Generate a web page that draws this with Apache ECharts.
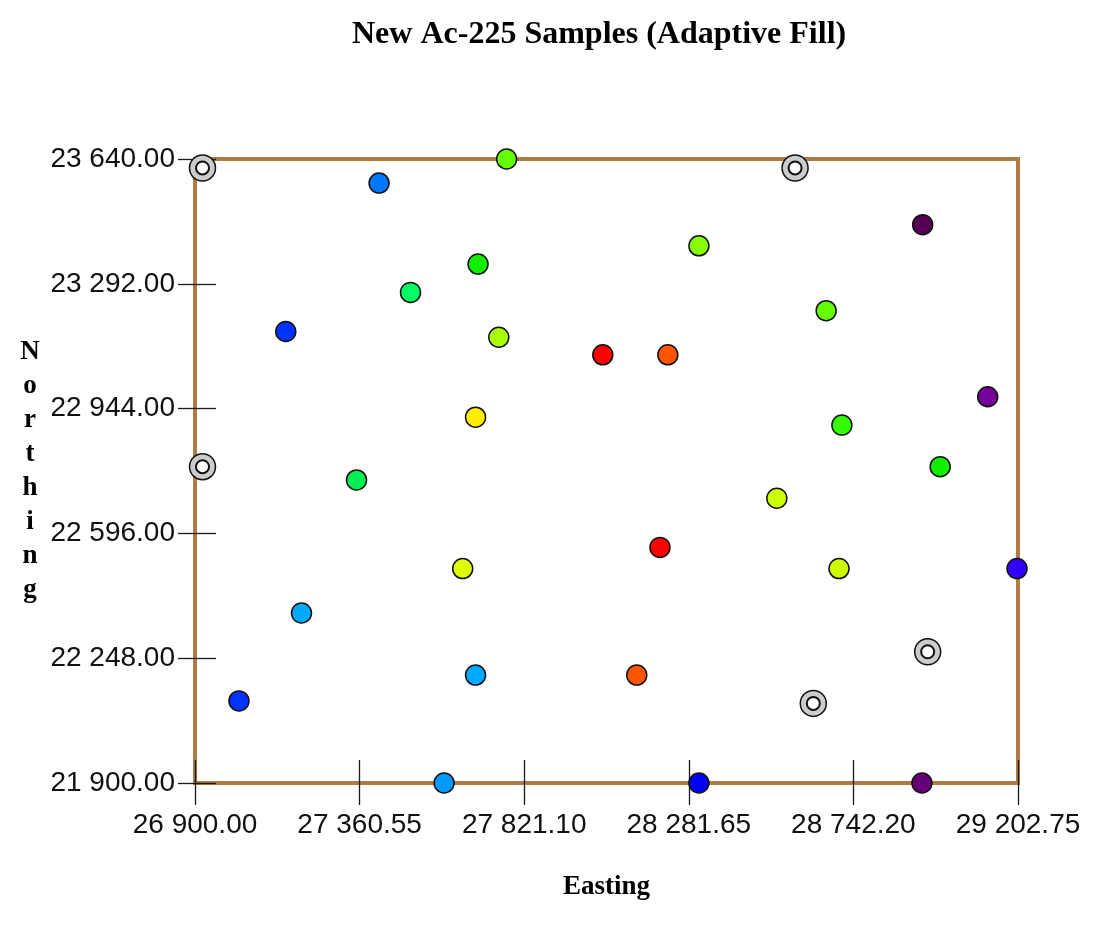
<!DOCTYPE html>
<html>
<head>
<meta charset="utf-8">
<script src="https://cdn.jsdelivr.net/npm/echarts@6/dist/echarts.min.js"></script>
<style>
html,body{margin:0;padding:0;background:#fff;}
#chart{width:1113px;height:937px;}
</style>
</head>
<body>
<div id="chart"></div>
<script>
// ---- data ----
const titleText = 'New Ac-225 Samples (Adaptive Fill)';
const xName = 'Easting';
const yName = 'Northing';

const xTickValues = [26900, 27360.55, 27821.10, 28281.65, 28742.20, 29202.75];
const xTickLabels = ['26 900.00', '27 360.55', '27 821.10', '28 281.65', '28 742.20', '29 202.75'];
const yTickValues = [21900, 22248, 22596, 22944, 23292, 23640];
const yTickLabels = ['21 900.00', '22 248.00', '22 596.00', '22 944.00', '23 292.00', '23 640.00'];

// sample locations (Easting, Northing) and their fill class
const sampleEast  = [27772, 27415, 28936, 28310, 27692, 27503, 28666, 27154, 27750, 28041, 28223, 29118, 27685, 28710, 28985, 27352, 28528, 28201, 27649, 28702, 29200, 27198, 28136, 27685, 27023, 27597, 28310, 28934];
const sampleNorth = [23640, 23573, 23457, 23398, 23347, 23268, 23217, 23159, 23143, 23094, 23094, 22977, 22920, 22898, 22782, 22745, 22694, 22557, 22498, 22498, 22498, 22374, 22201, 22201, 22129, 21900, 21900, 21900];
const sampleClass = [10, 3, 20, 11, 8, 7, 10, 2, 12, 17, 16, 18, 15, 9, 8, 6, 13, 17, 14, 13, 1, 5, 16, 5, 2, 4, 0, 19];

// non-sampled / reference locations (grey target symbols)
const refEast  = [26921, 28579, 26921, 28950, 28630];
const refNorth = [23615, 23615, 22782, 22266, 22122];

// ---- styles ----
const palette = ['#0000ff', '#3300ff', '#0033ff', '#0077ff', '#0099ff', '#00aaff', '#00ee55', '#00ff66',
                 '#11ee00', '#33ff00', '#66ff00', '#88ff00', '#aaff00', '#ccff00', '#ddff00', '#ffee00',
                 '#ff5500', '#ff0000', '#770099', '#660077', '#550055'];
const brown = '#b07a45';
const tickColor = '#1a1a1a';
const labelFont = 'Liberation Sans';
const serif = 'Liberation Serif';

function lookup(values, labels, v) {
  for (let i = 0; i < values.length; i++) {
    if (Math.abs(values[i] - v) < 0.01) return labels[i];
  }
  return '';
}

const samples = sampleEast.map((e, i) => [e, sampleNorth[i]]);
const refs = refEast.map((e, i) => [e, refNorth[i]]);

const xMin = xTickValues[0], xMax = xTickValues[xTickValues.length - 1];
const yMin = yTickValues[0], yMax = yTickValues[yTickValues.length - 1];

const chart = echarts.init(document.getElementById('chart'), null, {renderer: 'canvas'});
chart.setOption({
  animation: false,
  backgroundColor: '#ffffff',
  title: {
    text: titleText,
    left: 352,
    top: 19,
    padding: 0,
    textStyle: {fontFamily: serif, fontWeight: 'bold', fontSize: 32, color: '#000'}
  },
  grid: {
    left: 195, right: 95, top: 159, bottom: 154,
    show: true, borderColor: brown, borderWidth: 4,
    containLabel: false, outerBoundsMode: 'none'
  },
  xAxis: [
    {
      type: 'value', position: 'bottom', min: xMin, max: xMax,
      name: xName, nameLocation: 'middle', nameGap: 104,
      nameTextStyle: {fontFamily: serif, fontWeight: 'bold', fontSize: 27, color: '#000', verticalAlign: 'middle'},
      axisLine: {show: true, lineStyle: {color: brown, width: 4}},
      axisTick: {show: true, inside: false, length: 22, customValues: xTickValues, lineStyle: {color: tickColor, width: 1.3}},
      axisLabel: {show: true, margin: 28, customValues: xTickValues, fontFamily: labelFont, fontSize: 28, color: '#111',
        formatter: v => lookup(xTickValues, xTickLabels, v)},
      splitLine: {show: false}
    },
    {
      type: 'value', position: 'bottom', min: xMin, max: xMax,
      axisLine: {show: false},
      axisTick: {show: true, inside: true, length: 23, customValues: xTickValues, lineStyle: {color: tickColor, width: 1.3}},
      axisLabel: {show: false},
      splitLine: {show: false}
    }
  ],
  yAxis: [
    {
      type: 'value', position: 'left', min: yMin, max: yMax,
      name: yName.split('').join('\n'), nameLocation: 'middle', nameGap: 165, nameRotate: 0,
      nameTextStyle: {fontFamily: serif, fontWeight: 'bold', fontSize: 27, color: '#000',
        align: 'center', verticalAlign: 'middle', lineHeight: 34, padding: [0, 0, 38, 0]},
      axisLine: {show: true, lineStyle: {color: brown, width: 4}},
      axisTick: {show: true, inside: false, length: 17, customValues: yTickValues, lineStyle: {color: tickColor, width: 1.3}},
      axisLabel: {show: true, margin: 20, customValues: yTickValues, fontFamily: labelFont, fontSize: 28, color: '#111',
        formatter: v => lookup(yTickValues, yTickLabels, v)},
      splitLine: {show: false}
    },
    {
      type: 'value', position: 'left', min: yMin, max: yMax,
      axisLine: {show: false},
      axisTick: {show: true, inside: true, length: 21, customValues: yTickValues, lineStyle: {color: tickColor, width: 1.3}},
      axisLabel: {show: false},
      splitLine: {show: false}
    }
  ],
  series: [
    {
      type: 'scatter', xAxisIndex: 0, yAxisIndex: 0, clip: false, z: 5,
      data: refs, symbol: 'circle', symbolSize: 26,
      itemStyle: {color: '#cccccc', borderColor: '#111', borderWidth: 1.5, opacity: 1},
      emphasis: {disabled: true}
    },
    {
      type: 'scatter', xAxisIndex: 0, yAxisIndex: 0, clip: false, z: 6,
      data: refs, symbol: 'circle', symbolSize: 13,
      itemStyle: {color: '#ffffff', borderColor: '#111', borderWidth: 2, opacity: 1},
      emphasis: {disabled: true}
    },
    {
      type: 'scatter', xAxisIndex: 0, yAxisIndex: 0, clip: false, z: 7,
      data: samples, symbol: 'circle', symbolSize: 20,
      itemStyle: {
        color: p => palette[sampleClass[p.dataIndex]],
        borderColor: '#111', borderWidth: 1.5, opacity: 1
      },
      emphasis: {disabled: true}
    }
  ]
});
</script>
</body>
</html>
